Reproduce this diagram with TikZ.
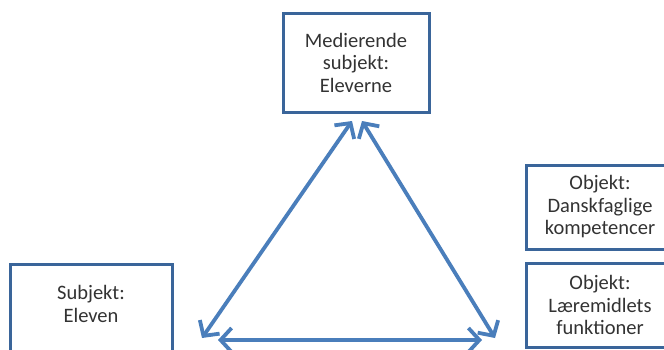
\documentclass[tikz,border=0pt]{standalone}
\usepackage{fontspec}
\setmainfont{Carlito}
\usepackage{xcolor}
\definecolor{boxblue}{HTML}{3A659A}
\definecolor{arrowblue}{HTML}{4A7EBB}
\usetikzlibrary{positioning,arrows.meta}

\tikzset{
  box/.style={draw=boxblue, line width=3pt, fill=white, align=center, text=black!80,
    font=\fontsize{20.5}{22.5}\selectfont, inner sep=0pt},
  txt/.style={align=center, text=black!80, font=\fontsize{20.5}{22.5}\selectfont, inner sep=0pt},
  link/.style={draw=arrowblue, line width=3.8pt,
    {Straight Barb[length=11pt,width=24pt]}-{Straight Barb[length=11pt,width=24pt]}}
}

\begin{document}
\begin{tikzpicture}[x=1pt, y=-1pt]
				\clip (0,0) rectangle (664,349);
				% boxes
				\node[box, minimum width=146pt, minimum height=99pt] (med) at (356,62.5) {Medierende\\subjekt:\\Eleverne};
				\node[box, minimum width=162pt, minimum height=110pt, anchor=north] (subj) at (91,263) {};
				\node[txt] (subjtxt) at (91,304) {Subjekt:\\Eleven};
				\node[box, minimum width=148pt, minimum height=84pt] (obj1) at (600,207) {Objekt:\\Danskfaglige\\kompetencer};
				\node[box, minimum width=148pt, minimum height=84pt] (obj2) at (600,305) {Objekt:\\Læremidlets\\funktioner};
				% arrow ends
				\coordinate (topl) at (352,121);
				\coordinate (topr) at (362,121);
				\coordinate (botl) at (202,338);
				\coordinate (botr) at (495,338);
				\coordinate (basel) at (218,340);
				\coordinate (baser) at (482,340);
				\draw[link] (botl) -- (topl);
				\draw[link] (topr) -- (botr);
				\draw[link] (basel) -- (baser);
			\end{tikzpicture}
\end{document}
